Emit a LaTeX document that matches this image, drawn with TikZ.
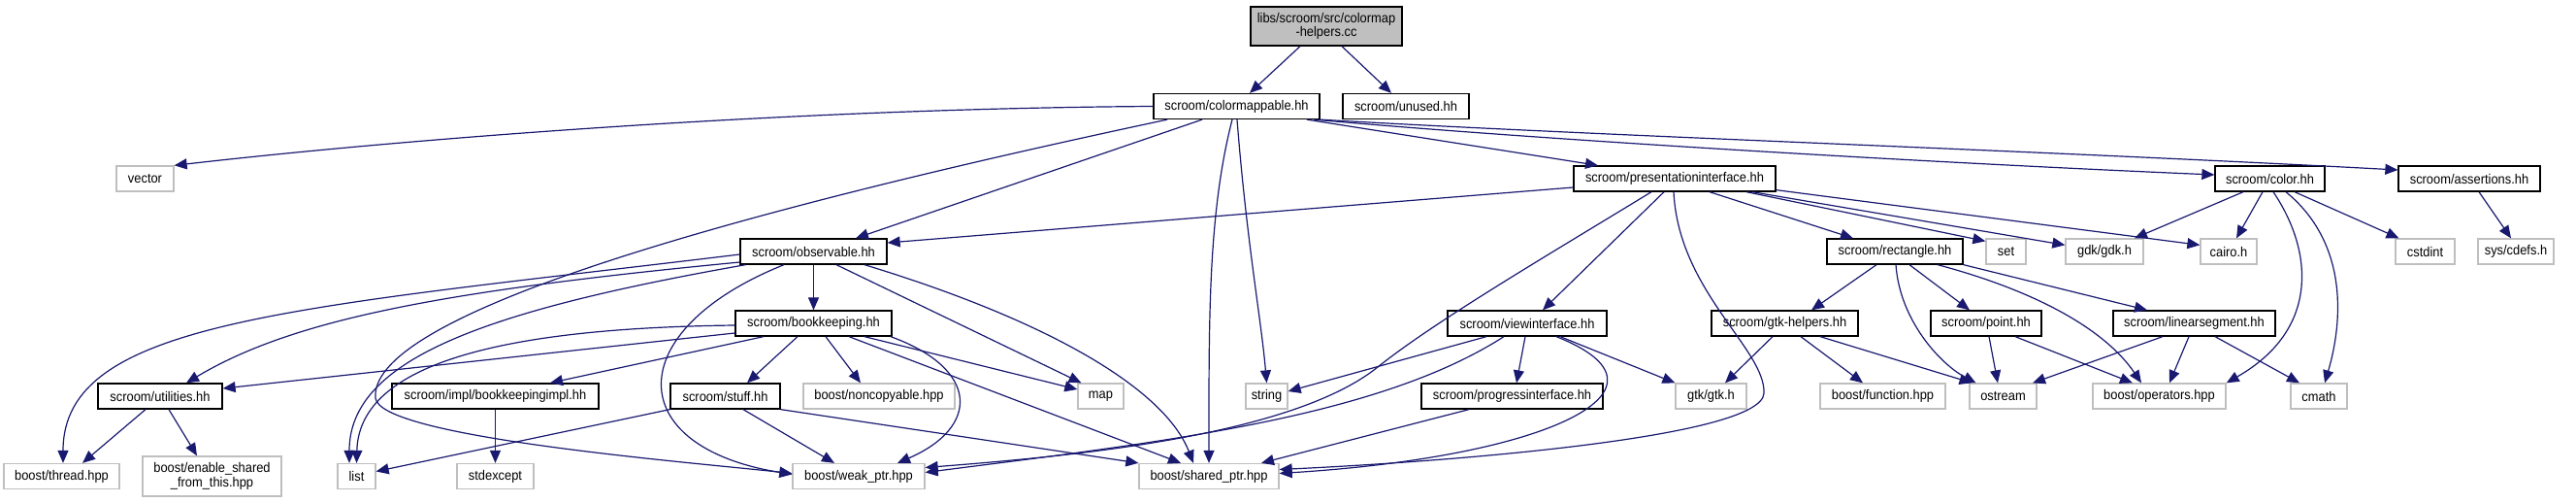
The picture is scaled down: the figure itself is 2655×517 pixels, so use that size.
\documentclass[tikz,border=0pt]{standalone}
\usepackage{fontspec}
\setmainfont[FakeStretch=0.92]{Liberation Sans}
\usetikzlibrary{arrows.meta}
\definecolor{edgec}{HTML}{191970}
\definecolor{grayb}{HTML}{BFBFBF}
\begin{document}
\begin{tikzpicture}[x=1pt,y=-1pt,
  font=\fontsize{14}{14.5}\selectfont,
  inc/.style={draw=black, line width=1.3pt, fill=white, minimum height=26, inner sep=0pt, align=center},
  sysh/.style={draw=grayb, line width=1.3pt, fill=white, minimum height=26, inner sep=0pt, align=center},
  mainbox/.style={draw=black, line width=1.3pt, fill=grayb, minimum height=40, inner sep=0pt, align=center},
  edge/.style={draw=edgec, line width=1.2pt, -{Triangle[length=13pt,width=11pt]}}]
\useasboundingbox (0,0) rectangle (2655,517);
% row 0
\node[mainbox, minimum width=156] (main) at (1367,27) {libs/scroom/src/colormap\\-helpers.cc};
% row 1
\node[inc, minimum width=171] (colormap) at (1274.5,109.5) {scroom/colormappable.hh};
\node[inc, minimum width=130] (unused) at (1449,109.5) {scroom/unused.hh};
% row 2
\node[sysh, minimum width=59] (vector) at (149.5,184) {vector};
\node[inc, minimum width=208] (PI) at (1726,184) {scroom/presentationinterface.hh};
\node[inc, minimum width=113] (color) at (2339.5,184) {scroom/color.hh};
\node[inc, minimum width=146] (assert) at (2545,184) {scroom/assertions.hh};
% row 3
\node[inc, minimum width=151] (observable) at (838.5,259) {scroom/observable.hh};
\node[inc, minimum width=140] (rect) at (1953,259) {scroom/rectangle.hh};
\node[sysh, minimum width=41] (set) at (2067.5,259) {set};
\node[sysh, minimum width=80] (gdk) at (2169,259) {gdk/gdk.h};
\node[sysh, minimum width=58] (cairo) at (2297,259) {cairo.h};
\node[sysh, minimum width=61] (cstdint) at (2499.5,259) {cstdint};
\node[sysh, minimum width=78] (sys) at (2593,259) {sys/cdefs.h};
% row 4
\node[inc, minimum width=161] (bookkeeping) at (838.5,333) {scroom/bookkeeping.hh};
\node[inc, minimum width=164] (view) at (1574,333) {scroom/viewinterface.hh};
\node[inc, minimum width=151] (gtkh) at (1839.5,333) {scroom/gtk-helpers.hh};
\node[inc, minimum width=114] (point) at (2047,333) {scroom/point.hh};
\node[inc, minimum width=167] (linseg) at (2261.5,333) {scroom/linearsegment.hh};
% row 5
\node[inc, minimum width=128] (util) at (165,408) {scroom/utilities.hh};
\node[inc, minimum width=213] (bkimpl) at (510.5,408) {scroom/impl/bookkeepingimpl.hh};
\node[inc, minimum width=113] (stuff) at (747.5,408) {scroom/stuff.hh};
\node[sysh, minimum width=156] (noncopy) at (906,408) {boost/noncopyable.hpp};
\node[sysh, minimum width=47] (map) at (1134.5,408) {map};
\node[sysh, minimum width=43] (string) at (1305.5,408) {string};
\node[inc, minimum width=187] (progress) at (1558.5,408) {scroom/progressinterface.hh};
\node[sysh, minimum width=73] (gtk) at (1763.5,408) {gtk/gtk.h};
\node[sysh, minimum width=129] (function) at (1940.5,408) {boost/function.hpp};
\node[sysh, minimum width=69] (ostream) at (2064.5,408) {ostream};
\node[sysh, minimum width=137] (operators) at (2225.5,408) {boost/operators.hpp};
\node[sysh, minimum width=58] (cmath) at (2390,408) {cmath};
% row 6
\node[sysh, minimum width=119] (thread) at (63.5,490.5) {boost/thread.hpp};
\node[sysh, minimum width=143, minimum height=41] (enable) at (218.5,490.5) {boost/enable\_shared\\\_from\_this.hpp};
\node[sysh, minimum width=39] (list) at (367.5,490.5) {list};
\node[sysh, minimum width=79] (stdexcept) at (510.5,490.5) {stdexcept};
\node[sysh, minimum width=136] (weak) at (885,490.5) {boost/weak\_ptr.hpp};
\node[sysh, minimum width=144] (shared) at (1246,490.5) {boost/shared\_ptr.hpp};

% edges from main
\draw[edge] ([xshift=-27]main.south) -- ([xshift=13.5]colormap.north);
\draw[edge] ([xshift=16]main.south) -- ([xshift=-15]unused.north);
% colormappable
\draw[edge] (colormap.west) .. controls (800,112) and (400,145) .. (vector.north east);
\draw[edge] ([xshift=-35.5]colormap.south) -- ([xshift=43.5]observable.north);
\draw[edge] ([xshift=-71.5]colormap.south) .. controls (700,230) and (380,330) .. (387,410) .. controls (392,450) and (700,475) .. ([yshift=3]weak.west);
\draw[edge] ([xshift=72.5]colormap.south) -- ([xshift=-79]PI.north);
\draw[edge] ([xshift=80]colormap.south) .. controls (1600,145) and (2000,168) .. ([yshift=4]color.west);
\draw[edge] (colormap.south east) .. controls (1650,140) and (2100,155) .. ([yshift=9]assert.west);
\draw[edge] ([xshift=0.5]colormap.south) .. controls (1285,250) and (1300,330) .. (string.north);
\draw[edge] ([xshift=-4.5]colormap.south) .. controls (1245,220) and (1246,330) .. (shared.north);
% presentationinterface
\draw[edge] ([yshift=-9]PI.west) -- ([yshift=9]observable.east);
\draw[edge] ([xshift=-24]PI.south) .. controls (1600,260) and (1480,330) .. (1420,378) .. controls (1330,450) and (1100,470) .. ([yshift=9]weak.east);
\draw[edge] ([xshift=-11]PI.south) -- ([xshift=16]view.north);
\draw[edge] ([xshift=-1]PI.south) .. controls (1730,300) and (1820,360) .. (1818,405) .. controls (1816,450) and (1500,475) .. ([yshift=7]shared.east);
\draw[edge] ([xshift=36]PI.south) -- ([xshift=-43]rect.north);
\draw[edge] ([xshift=74]PI.south) -- ([yshift=-3]set.north west);
\draw[edge] ([xshift=80]PI.south) -- ([yshift=-7]gdk.north west);
\draw[edge] ([yshift=2]PI.south east) -- ([yshift=-7]cairo.north west);
% color
\draw[edge] ([xshift=-27.5]color.south) -- ([xshift=31]gdk.north);
\draw[edge] ([xshift=-7.5]color.south) -- ([xshift=8]cairo.north);
\draw[edge] ([xshift=3.5]color.south) .. controls (2385,260) and (2390,340) .. (operators.north east);
\draw[edge] ([xshift=16.5]color.south) .. controls (2420,250) and (2415,330) .. ([xshift=6]cmath.north);
\draw[edge] ([xshift=25.5]color.south) -- ([xshift=-27]cstdint.north);
% assertions
\draw[edge] ([xshift=10]assert.south) -- ([xshift=-5]sys.north);
% observable
\draw[edge] ([yshift=-3]observable.west) .. controls (300,318) and (65,330) .. ([xshift=1.5]thread.north);
\draw[edge] ([yshift=-11]observable.west) .. controls (450,300) and (300,330) .. ([xshift=27]util.north);
\draw[edge] ([xshift=-70]observable.south) .. controls (500,320) and (360,370) .. ([xshift=-7.5]list.north);
\draw[edge] ([xshift=-30.5]observable.south) .. controls (640,340) and (640,460) .. ([yshift=2]weak.west);
\draw[edge] (observable.south) -- (bookkeeping.north);
\draw[edge] ([xshift=23.5]observable.south) -- ([xshift=-20]map.north);
\draw[edge] ([xshift=52.5]observable.south) .. controls (1080,330) and (1200,400) .. ([xshift=-16]shared.north);
% bookkeeping
\draw[edge] ([yshift=-2]bookkeeping.west) .. controls (500,338) and (370,380) .. (list.north);
\draw[edge] ([yshift=-10]bookkeeping.west) -- ([yshift=8]util.east);
\draw[edge] ([xshift=-51.5]bookkeeping.south) -- ([xshift=56.5]bkimpl.north);
\draw[edge] ([xshift=-16.5]bookkeeping.south) -- ([xshift=22.5]stuff.north);
\draw[edge] ([xshift=12.5]bookkeeping.south) -- ([xshift=-19]noncopy.north);
\draw[edge] ([xshift=36.5]bookkeeping.south) -- ([xshift=-29]shared.north);
\draw[edge] ([xshift=52.5]bookkeeping.south) -- ([yshift=7]map.west);
\draw[edge] ([xshift=79.5]bookkeeping.south) .. controls (1010,380) and (1010,440) .. ([xshift=40]weak.north);
% viewinterface
\draw[edge] ([xshift=-42]view.south) -- ([yshift=5]string.east);
\draw[edge] ([xshift=-24]view.south) .. controls (1420,430) and (1200,455) .. ([yshift=4]weak.east);
\draw[edge] ([xshift=-2]view.south) -- ([xshift=4.5]progress.north);
\draw[edge] ([xshift=30]view.south) .. controls (1740,400) and (1600,470) .. ([yshift=3]shared.east);
\draw[edge] ([xshift=34]view.south) -- (gtk.north west);
% progressinterface
\draw[edge] ([xshift=-44.5]progress.south) -- ([xshift=54]shared.north);
% gtk-helpers
\draw[edge] ([xshift=-12.5]gtkh.south) -- ([xshift=14.5]gtk.north);
\draw[edge] ([xshift=16.5]gtkh.south) -- ([xshift=-20.5]function.north);
\draw[edge] ([xshift=36.5]gtkh.south) -- ([xshift=-32]ostream.north);
% rectangle
\draw[edge] ([xshift=-19]rect.south) -- ([xshift=27.5]gtkh.north);
\draw[edge] ([xshift=1]rect.south) .. controls (1958,330) and (2000,375) .. ([xshift=-28]ostream.north);
\draw[edge] ([xshift=15]rect.south) -- ([xshift=-17]point.north);
\draw[edge] ([xshift=44]rect.south) .. controls (2100,300) and (2170,340) .. ([xshift=-18.5]operators.north);
\draw[edge] (rect.south east) -- ([xshift=-48.5]linseg.north);
% point
\draw[edge] ([xshift=3]point.south) -- ([xshift=-5.5]ostream.north);
\draw[edge] ([xshift=30]point.south) -- ([xshift=-27.5]operators.north);
% linearsegment
\draw[edge] ([xshift=-32.5]linseg.south) -- ([xshift=30.5]ostream.north);
\draw[edge] ([xshift=-5.5]linseg.south) -- ([xshift=10.5]operators.north);
\draw[edge] ([xshift=21.5]linseg.south) -- ([xshift=-20]cmath.north);
% utilities
\draw[edge] ([xshift=-15]util.south) -- ([xshift=21.5]thread.north);
\draw[edge] ([xshift=9]util.south) -- ([xshift=-15.5]enable.north);
% bookkeepingimpl
\draw[edge] (bkimpl.south) -- (stdexcept.north);
% stuff
\draw[edge] (stuff.south west) -- ([yshift=5]list.east);
\draw[edge] ([xshift=18.5]stuff.south) -- ([xshift=-25]weak.north);
\draw[edge] (stuff.south east) -- (shared.north west);
\end{tikzpicture}
\end{document}
